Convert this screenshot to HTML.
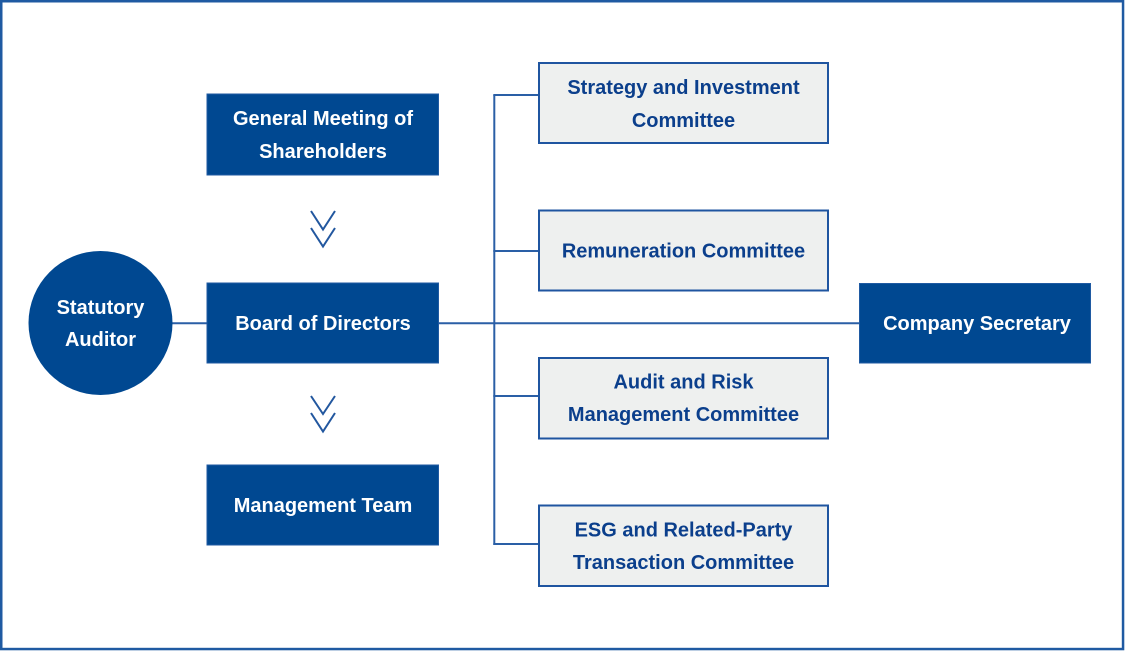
<!DOCTYPE html>
<html>
<head>
<meta charset="utf-8">
<style>
  html, body { margin: 0; padding: 0; background: #ffffff; }
  body { width: 1125px; height: 651px; overflow: hidden; }
  svg { display: block; }
  text { font-family: "Liberation Sans", Arial, sans-serif; font-weight: bold; font-size: 20px; text-anchor: middle; }
  .w { fill: #ffffff; }
  .b { fill: #0b3f8c; }
</style>
</head>
<body>
<svg width="1125" height="651" viewBox="0 0 1125 651" xmlns="http://www.w3.org/2000/svg">
  <!-- outer border -->
  <rect x="1.25" y="1.25" width="1121.8" height="647.8" fill="#ffffff" stroke="#1f5aa2" stroke-width="2.5"/>

  <!-- connectors -->
  <g stroke="#2a5fa6" stroke-width="2" fill="none">
    <line x1="172" y1="323.3" x2="208" y2="323.3"/>
    <line x1="438" y1="323.3" x2="860" y2="323.3"/>
    <line x1="494.3" y1="95" x2="494.3" y2="545"/>
    <line x1="493.3" y1="95" x2="539" y2="95"/>
    <line x1="493.3" y1="251" x2="539" y2="251"/>
    <line x1="493.3" y1="396" x2="539" y2="396"/>
    <line x1="493.3" y1="544" x2="539" y2="544"/>
  </g>

  <!-- chevrons -->
  <g stroke="#22579f" stroke-width="2" fill="none" stroke-linejoin="miter">
    <polyline points="311,211 323,229.5 335,211"/>
    <polyline points="311,228 323,246.5 335,228"/>
    <polyline points="311,396 323,414 335,396"/>
    <polyline points="311,413 323,431.5 335,413"/>
  </g>

  <!-- left column boxes -->
  <rect x="207" y="94" width="231.5" height="81" fill="#004891" stroke="#1f5aa2" stroke-width="1"/>
  <text class="w" x="323" y="125">General Meeting of</text>
  <text class="w" x="323" y="158">Shareholders</text>

  <rect x="207" y="283" width="231.5" height="80" fill="#004891" stroke="#1f5aa2" stroke-width="1"/>
  <text class="w" x="323" y="330">Board of Directors</text>

  <rect x="207" y="465" width="231.5" height="80" fill="#004891" stroke="#1f5aa2" stroke-width="1"/>
  <text class="w" x="323" y="512">Management Team</text>

  <!-- statutory auditor circle -->
  <circle cx="100.5" cy="323" r="72" fill="#004891"/>
  <text class="w" x="100.5" y="314">Statutory</text>
  <text class="w" x="100.5" y="346">Auditor</text>

  <!-- company secretary -->
  <rect x="859.5" y="283.5" width="231" height="79.5" fill="#004891" stroke="#1f5aa2" stroke-width="1"/>
  <text class="w" x="977" y="330">Company Secretary</text>

  <!-- committees -->
  <g fill="#eef0ef" stroke="#1f55a0" stroke-width="2">
    <rect x="539" y="63" width="289" height="80"/>
    <rect x="539" y="210.5" width="289" height="80"/>
    <rect x="539" y="358" width="289" height="80.5"/>
    <rect x="539" y="505.5" width="289" height="80.5"/>
  </g>
  <text class="b" x="683.5" y="94">Strategy and Investment</text>
  <text class="b" x="683.5" y="127">Committee</text>
  <text class="b" x="683.5" y="257.5">Remuneration Committee</text>
  <text class="b" x="683.5" y="388.5">Audit and Risk</text>
  <text class="b" x="683.5" y="421">Management Committee</text>
  <text class="b" x="683.5" y="536.5">ESG and Related-Party</text>
  <text class="b" x="683.5" y="569">Transaction Committee</text>
</svg>
</body>
</html>
